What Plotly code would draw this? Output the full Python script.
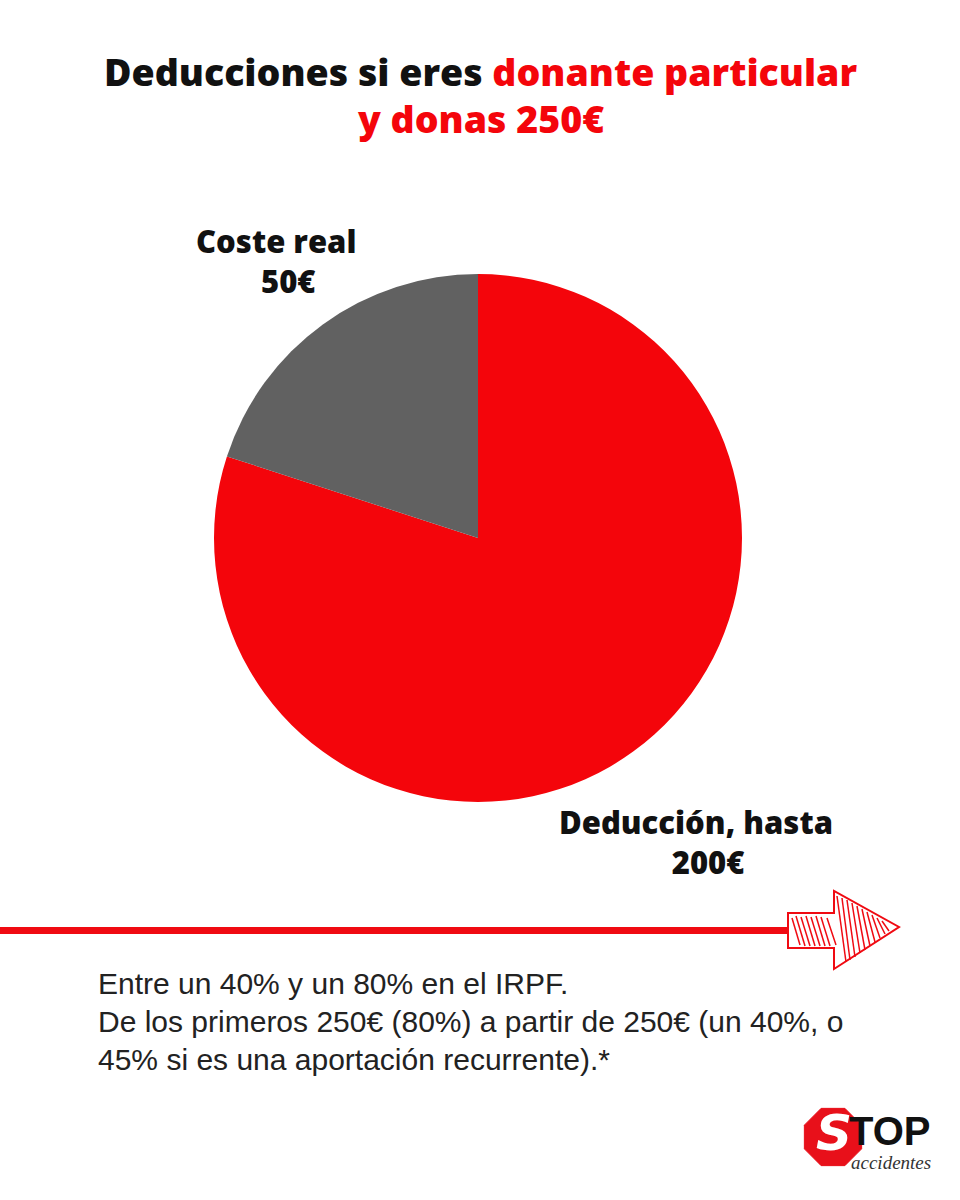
import plotly.graph_objects as go
import math

# ---- data ----
labels = ["Deducción, hasta", "Coste real"]
values = [200, 50]
colors = ["#F4050B", "#616161"]
label_line1 = ["Deducción, hasta", "Coste real"]
label_line2 = ["200€", "50€"]
title_black = "Deducciones si eres "
title_red1 = "donante particular"
title_red2 = "y donas 250€"
note_lines = [
    "Entre un 40% y un 80% en el IRPF.",
    "De los primeros 250€ (80%) a partir de 250€ (un 40%, o",
    "45% si es una aportación recurrente).*",
]

W, H = 960, 1200
def px(x): return x / W
def py(y): return 1 - y / H

TITLE_FONT = "Open Sans"

fig = go.Figure()
fig.add_trace(go.Pie(
    labels=labels, values=values, sort=False, direction="clockwise", rotation=0,
    marker=dict(colors=colors, line=dict(width=0)),
    textinfo="none", hoverinfo="label+value", showlegend=False,
    domain=dict(x=[px(214), px(742)], y=[py(802), py(274)]),
))

ann = []
# title
ann.append(dict(x=px(480), y=py(71), xref="paper", yref="paper", showarrow=False,
                text=f"<span style='color:#111'>{title_black}</span><span style='color:#F4050B'>{title_red1}</span>",
                font=dict(family=TITLE_FONT, size=37.5, weight=800), xanchor="center", yanchor="middle"))
ann.append(dict(x=px(480), y=py(118), xref="paper", yref="paper", showarrow=False,
                text=title_red2, font=dict(family=TITLE_FONT, size=37.5, color="#F4050B", weight=800),
                xanchor="center", yanchor="middle"))
# slice labels (two lines, second nudged right as in the reference)
lab_pos = [(696, 842), (276, 261)]
for i in range(2):
    x, y = lab_pos[i]
    ann.append(dict(x=px(x), y=py(y), xref="paper", yref="paper", showarrow=False,
                    text=label_line1[i] + "<br>&nbsp;&nbsp;&nbsp;" + label_line2[i], align="center",
                    font=dict(family=TITLE_FONT, size=31, color="#111", weight=800),
                    xanchor="center", yanchor="middle"))
# note
for i, line in enumerate(note_lines):
    ann.append(dict(x=px(96), y=py(984 + 37.5 * i), xref="paper", yref="paper", showarrow=False,
                    text=line, font=dict(family="Liberation Sans", size=30, color="#222"),
                    xanchor="left", yanchor="middle"))

shapes = []
RED = "#F00A12"
# red line
shapes.append(dict(type="rect", xref="paper", yref="paper", x0=0, x1=px(788), y0=py(927), y1=py(934),
                   fillcolor=RED, line=dict(width=0)))
# arrow outline
pts = [(788, 913), (834, 913), (834, 891), (899, 927), (834, 969), (834, 948), (788, 948)]
path = "M " + " L ".join(f"{px(x)},{py(y)}" for x, y in pts) + " Z"
shapes.append(dict(type="path", xref="paper", yref="paper", path=path,
                   line=dict(color=RED, width=2), fillcolor="rgba(255,255,255,0)"))
# hatching
hatch = [((792, 918), (800, 945)), ((796, 916), (805, 946)), ((801, 917), (810, 946)),
         ((806, 916), (815, 946)), ((811, 917), (820, 946)), ((816, 916), (825, 946)),
         ((821, 917), (830, 946)), ((827, 918), (836, 945)),
         ((837, 896), (846, 962)), ((842, 898), (850, 960)), ((847, 900), (855, 957)),
         ((852, 903), (860, 953)), ((857, 906), (865, 950)), ((862, 909), (870, 946)),
         ((867, 912), (875, 942)), ((872, 915), (880, 938)), ((877, 918), (885, 934)),
         ((882, 921), (889, 931))]
for (a, b) in hatch:
    shapes.append(dict(type="line", xref="paper", yref="paper", x0=px(a[0]), y0=py(a[1]),
                       x1=px(b[0]), y1=py(b[1]), line=dict(color=RED, width=1.5)))
# logo octagon
cx, cy, r = 833, 1137, 31
oct_pts = [(cx + r * math.cos(math.radians(22.5 + 45 * k)), cy + r * math.sin(math.radians(22.5 + 45 * k))) for k in range(8)]
path = "M " + " L ".join(f"{px(x)},{py(y)}" for x, y in oct_pts) + " Z"
shapes.append(dict(type="path", xref="paper", yref="paper", path=path,
                   fillcolor="#E8101A", line=dict(color="#E8101A", width=1)))
ann.append(dict(x=px(834), y=py(1133), xref="paper", yref="paper", showarrow=False,
                text="<b><i>S</i></b>", font=dict(family="DejaVu Sans", size=50, color="white"),
                xanchor="center", yanchor="middle"))
ann.append(dict(x=px(890), y=py(1131), xref="paper", yref="paper", showarrow=False,
                text="<b>TOP</b>", font=dict(family="Liberation Sans", size=40, color="#111"),
                xanchor="center", yanchor="middle", height=34))
ann.append(dict(x=px(891), y=py(1162), xref="paper", yref="paper", showarrow=False,
                text="<i>accidentes</i>", font=dict(family="Liberation Serif", size=19, color="#333"),
                xanchor="center", yanchor="middle", height=16))

fig.update_layout(width=W, height=H, margin=dict(l=0, r=0, t=0, b=0),
                  paper_bgcolor="white", plot_bgcolor="white",
                  annotations=ann, shapes=shapes)
fig.write_html("out.html")
